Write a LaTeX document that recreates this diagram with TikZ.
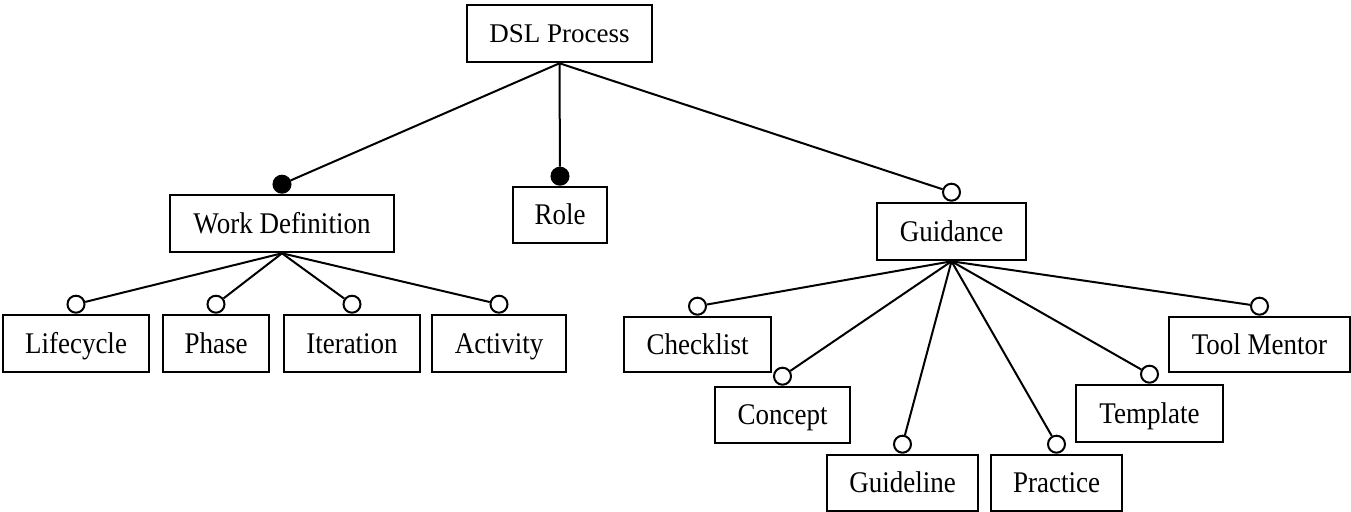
\documentclass[tikz,border=0pt]{standalone}
\usepackage{fontspec}
\setmainfont{Liberation Serif}
\newfontfamily\condserif[FakeStretch=0.9]{Liberation Serif}
\begin{document}
\begin{tikzpicture}[x=0.5pt,y=-0.5pt,
  box/.style={draw, line width=1.3pt, inner sep=0pt, minimum height=28.5pt,
    text height=9.9pt, text depth=0pt, font=\condserif\fontsize{15}{18}\selectfont},
  con/.style={line width=1pt},
  ofeat/.style={circle, draw, fill=white, line width=1pt, minimum size=8.5pt, inner sep=0pt, anchor=south},
  mfeat/.style={ofeat, fill=black}]
\useasboundingbox (0,0) rectangle (1351,512);
% nodes
\node[box, minimum width=92.5pt, text height=9pt, font=\fontsize{13.5}{16}\selectfont] (dsl) at (559.5,33.5) {DSL Process};
\node[box, minimum width=112pt] (wd) at (282,223.5) {Work Definition};
\node[box, minimum width=47pt, minimum height=28pt] (role) at (560,215) {Role};
\node[box, minimum width=74.5pt] (guid) at (951.5,231.5) {Guidance};
\node[box, minimum width=73pt] (life) at (76,343.5) {Lifecycle};
\node[box, minimum width=53pt] (phase) at (216,343.5) {Phase};
\node[box, minimum width=68pt] (iter) at (352,343.5) {Iteration};
\node[box, minimum width=67pt] (act) at (499,343.5) {Activity};
\node[box, minimum width=73.5pt, minimum height=27.5pt] (check) at (697.5,344.5) {Checklist};
\node[box, minimum width=67.5pt, minimum height=28pt] (concept) at (782.5,415) {Concept};
\node[box, minimum width=75.5pt, minimum height=28pt] (guideline) at (902.5,483) {Guideline};
\node[box, minimum width=65.5pt, minimum height=28pt] (practice) at (1056.5,483) {Practice};
\node[box, minimum width=73.5pt] (template) at (1149.5,413.5) {Template};
\node[box, minimum width=90.5pt, minimum height=27.5pt] (tool) at (1259.5,344.5) {Tool Mentor};
% feature markers
\node[mfeat] (c-wd) at (wd.north) {};
\node[mfeat] (c-role) at (role.north) {};
\node[ofeat] (c-guid) at (guid.north) {};
\node[ofeat] (c-life) at (life.north) {};
\node[ofeat] (c-phase) at (phase.north) {};
\node[ofeat] (c-iter) at (iter.north) {};
\node[ofeat] (c-act) at (act.north) {};
\node[ofeat] (c-check) at (check.north) {};
\node[ofeat] (c-concept) at (concept.north) {};
\node[ofeat] (c-guideline) at (guideline.north) {};
\node[ofeat] (c-practice) at (practice.north) {};
\node[ofeat] (c-template) at (template.north) {};
\node[ofeat] (c-tool) at (tool.north) {};
% connectors
\draw[con] (dsl.south) -- (c-wd);
\draw[con] (dsl.south) -- (c-role);
\draw[con] (dsl.south) -- (c-guid);
\foreach \c in {life,phase,iter,act}
  \draw[con] (wd.south) -- (c-\c);
\foreach \c in {check,concept,guideline,practice,template,tool}
  \draw[con] (guid.south) -- (c-\c);
\end{tikzpicture}
\end{document}
